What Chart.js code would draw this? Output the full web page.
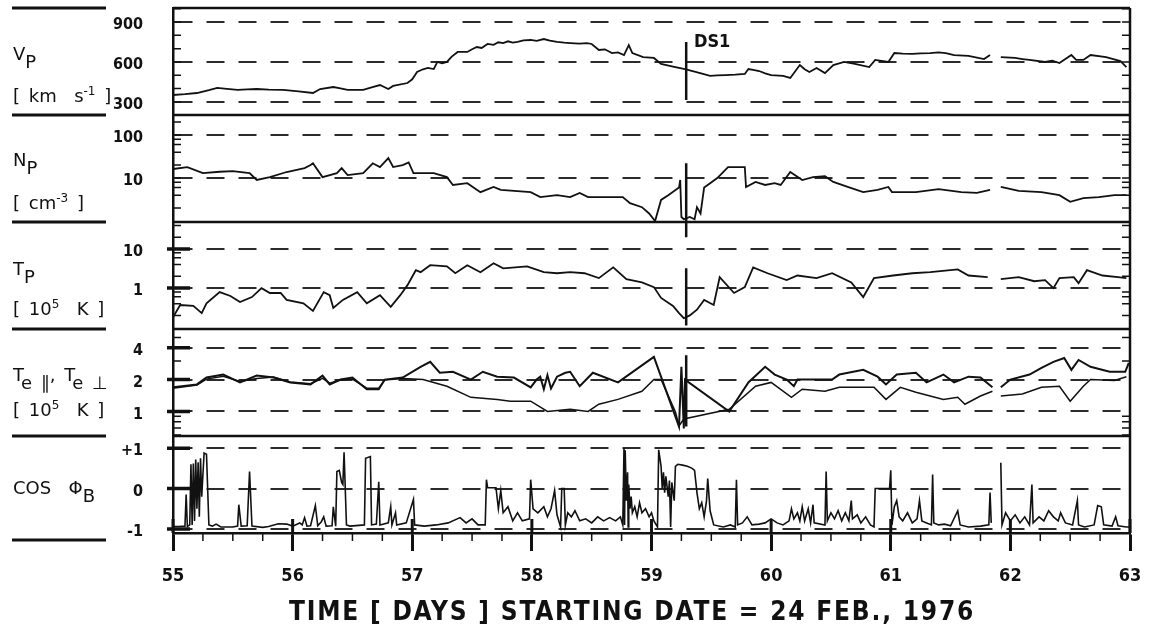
<!DOCTYPE html>
<html>
<head>
<meta charset="utf-8">
<script src="https://cdn.jsdelivr.net/npm/chart.js@4.4.1/dist/chart.umd.min.js"></script>
<style>
    html, body { margin: 0; padding: 0; background: #fff; }
    #wrap { position: relative; width: 1149px; height: 638px; overflow: hidden; }
    #plasmaChart { position: absolute; left: 0; top: 0; }
    .lab {
        position: absolute; left: 13px; color: #111; white-space: pre; line-height: 1;
        font-family: "DejaVu Sans", sans-serif; font-size: 18px; word-spacing: 3px;
    }
    .lab .sub { position: relative; top: 8px; }
    .lab .sup { position: relative; top: -7px; font-size: 12px; }
    .cond {
        position: absolute; color: #111; white-space: pre; line-height: 1;
        font-family: "DejaVu Sans Condensed", "DejaVu Sans", sans-serif; font-stretch: condensed; font-weight: bold;
    }
</style>
</head>
<body>
<div id="wrap">
    <canvas id="plasmaChart" width="1149" height="638"></canvas>

    <div class="lab" style="top:45px">V<span class="sub">P</span></div>
    <div class="lab" style="top:87px">[ km  s<span class="sup">-1</span> ]</div>
    <div class="lab" style="top:151px">N<span class="sub">P</span></div>
    <div class="lab" style="top:194px">[ cm<span class="sup">-3</span> ]</div>
    <div class="lab" style="top:260px">T<span class="sub">P</span></div>
    <div class="lab" style="top:300px">[ 10<span class="sup">5</span>  K ]</div>
    <div class="lab" style="top:366px">T<span class="sub">e ∥</span>, T<span class="sub">e ⊥</span></div>
    <div class="lab" style="top:401px">[ 10<span class="sup">5</span>  K ]</div>
    <div class="lab" style="top:479px">COS  Φ<span class="sub">B</span></div>

    <div class="cond" style="left:694px; top:32px; font-size:18px;">DS1</div>
    <div class="cond" style="left:632px; top:598px; font-size:26px; letter-spacing:1.8px; transform:translateX(-50%);">TIME [ DAYS ] STARTING DATE = 24 FEB., 1976</div>
</div>

<script>
// Solar wind plasma, days 55-63 of 1976: five stacked panels sharing one time axis

// time axis (days)
const dayTicks = [55, 56, 57, 58, 59, 60, 61, 62, 63];
const dayTickLabels = ['55', '56', '57', '58', '59', '60', '61', '62', '63'];

// proton bulk speed V_P [km/s]
const vpTicks = [300, 600, 900];
const vpTickLabels = ['300', '600', '900'];
const vpMinor = [400, 500, 700, 800, 1000];
const vpDays = [
    55.00, 55.10, 55.20, 55.30, 55.37, 55.45, 55.54, 55.62, 55.70, 55.80,
    55.92, 56.05, 56.17, 56.23, 56.34, 56.40, 56.46, 56.59, 56.66, 56.73,
    56.80, 56.84, 56.96, 57.00, 57.04, 57.09, 57.13, 57.18, 57.21, 57.25,
    57.29, 57.33, 57.38, 57.46, 57.50, 57.54, 57.58, 57.63, 57.68, 57.72,
    57.76, 57.80, 57.84, 57.88, 57.93, 57.99, 58.04, 58.10, 58.15, 58.21,
    58.27, 58.32, 58.40, 58.46, 58.50, 58.56, 58.61, 58.67, 58.72, 58.77,
    58.81, 58.84, 58.93, 59.02, 59.08, 59.18, 59.28, 59.36, 59.43, 59.49,
    59.55, 59.62, 59.70, 59.78, 59.81, 59.85, 59.90, 59.95, 60.00, 60.10,
    60.16, 60.24, 60.28, 60.32, 60.38, 60.45, 60.52, 60.61, 60.70, 60.82,
    60.87, 60.98, 61.03, 61.10, 61.18, 61.25, 61.33, 61.40, 61.46, 61.53,
    61.65, 61.78, 61.83, 61.87, 61.92, 62.04, 62.10, 62.16, 62.29, 62.35,
    62.41, 62.51, 62.55, 62.61, 62.67, 62.80, 62.92, 62.97
];
const vpValues = [
    352, 358, 367, 388, 405, 398, 390, 395, 397, 392,
    390, 380, 367, 397, 412, 402, 390, 390, 410, 427,
    397, 420, 442, 470, 525, 545, 555, 547, 600, 590,
    600, 640, 675, 675, 695, 712, 705, 735, 728, 748,
    742, 755, 745, 750, 762, 765, 758, 772, 760, 750,
    745, 742, 738, 742, 735, 690, 695, 667, 672, 652,
    727, 667, 637, 630, 585, 565, 547, 528, 510, 495,
    500, 502, 505, 510, 547, 540, 532, 515, 502, 495,
    480, 577, 545, 525, 555, 517, 577, 600, 585, 562,
    615, 600, 667, 662, 660, 665, 667, 672, 667, 652,
    645, 622, 652, null, 637, 630, 622, 615, 600, 610,
    592, 652, 615, 615, 652, 637, 607, 562
];

// proton density N_P [cm^-3]
const npTicks = [10, 100];
const npTickLabels = ['10', '100'];
const npMinor = [2, 4, 6, 8, 20, 40, 60, 80, 200];
const npDays = [
    55.00, 55.12, 55.25, 55.39, 55.50, 55.64, 55.70, 55.81, 55.95, 56.10,
    56.15, 56.17, 56.25, 56.37, 56.41, 56.46, 56.59, 56.67, 56.73, 56.80,
    56.84, 56.92, 56.97, 57.01, 57.18, 57.29, 57.34, 57.46, 57.57, 57.68,
    57.74, 57.99, 58.07, 58.21, 58.32, 58.40, 58.47, 58.76, 58.82, 58.92,
    58.98, 59.03, 59.08, 59.14, 59.23, 59.24, 59.25, 59.27, 59.32, 59.36,
    59.38, 59.41, 59.44, 59.49, 59.55, 59.64, 59.71, 59.78, 59.79, 59.87,
    59.95, 60.03, 60.08, 60.16, 60.26, 60.35, 60.45, 60.52, 60.64, 60.77,
    60.89, 60.98, 61.01, 61.21, 61.40, 61.59, 61.72, 61.83, 61.87, 61.92,
    62.07, 62.26, 62.41, 62.50, 62.61, 62.74, 62.87, 62.97
];
const npValues = [
    16.2, 18, 13, 14, 14.5, 13, 9, 10.5, 13.8, 17,
    20, 22, 10.5, 13, 17, 11.7, 13, 22, 18, 29,
    18, 20, 23, 13, 13, 10.5, 6.9, 7.6, 4.7, 6.2,
    5.3, 4.7, 3.6, 4.0, 3.6, 4.5, 3.6, 3.6, 2.6, 2.1,
    1.5, 1.0, 3.1, 4.0, 6.0, 9.0, 1.24, 1.1, 1.24, 1.1,
    2.1, 1.5, 6.0, 7.6, 10, 18, 18, 18, 6.2, 8.1,
    6.9, 7.6, 6.9, 13.8, 9, 10.5, 11, 8.1, 6.2, 4.7,
    5.3, 6.2, 4.7, 4.7, 5.5, 4.7, 4.5, 5.3, null, 6.2,
    5.0, 4.7, 4.0, 2.8, 3.4, 3.6, 4.0, 4.0
];

// proton temperature T_P [10^5 K]
const tpTicks = [1, 10];
const tpTickLabels = ['1', '10'];
const tpMinor = [0.2, 0.4, 0.6, 0.8, 2, 4, 6, 8, 20, 40];
const tpDays = [
    55.00, 55.06, 55.17, 55.24, 55.28, 55.39, 55.48, 55.56, 55.66, 55.74,
    55.81, 55.90, 55.95, 56.09, 56.17, 56.26, 56.31, 56.34, 56.42, 56.54,
    56.62, 56.73, 56.82, 56.90, 56.96, 57.03, 57.07, 57.15, 57.29, 57.36,
    57.46, 57.57, 57.68, 57.76, 57.96, 58.10, 58.21, 58.32, 58.44, 58.56,
    58.68, 58.79, 58.92, 59.02, 59.08, 59.18, 59.23, 59.27, 59.32, 59.38,
    59.44, 59.52, 59.57, 59.69, 59.78, 59.85, 59.97, 60.13, 60.22, 60.38,
    60.51, 60.67, 60.77, 60.86, 61.02, 61.18, 61.33, 61.56, 61.65, 61.81,
    61.86, 61.92, 62.07, 62.20, 62.29, 62.36, 62.41, 62.53, 62.57, 62.64,
    62.77, 62.90, 62.97
];
const tpValues = [
    0.18, 0.37, 0.35, 0.23, 0.41, 0.79, 0.63, 0.44, 0.59, 1.0,
    0.75, 0.75, 0.5, 0.41, 0.26, 0.79, 0.66, 0.31, 0.5, 0.79,
    0.41, 0.66, 0.33, 0.66, 1.19, 2.87, 2.55, 3.85, 3.6, 2.4,
    3.85, 2.55, 4.3, 3.2, 3.6, 2.55, 2.4, 2.55, 2.4, 1.8,
    3.4, 1.7, 1.4, 1.06, 0.56, 0.35, 0.23, 0.17, 0.2, 0.28,
    0.5, 0.37, 1.9, 0.75, 1.06, 3.4, 2.4, 1.6, 2.1, 1.8,
    2.4, 1.4, 0.59, 1.8, 2.1, 2.4, 2.55, 3.0, 2.1, 1.9,
    null, 1.7, 1.9, 1.5, 1.6, 1.0, 1.8, 1.9, 1.34, 2.87,
    2.1, 1.9, 1.8
];

// electron temperatures T_e parallel / perpendicular [10^5 K]
const teTicks = [1, 2, 4];
const teTickLabels = ['1', '2', '4'];
const teMinor = [0.6, 0.7, 0.8, 0.9, 3, 5];
const teParDays = [
    55.00, 55.20, 55.28, 55.42, 55.56, 55.70, 55.84, 55.98, 56.15, 56.25,
    56.31, 56.40, 56.50, 56.62, 56.72, 56.77, 56.92, 57.07, 57.15, 57.23,
    57.34, 57.49, 57.59, 57.71, 57.85, 57.99, 58.04, 58.07, 58.10, 58.13,
    58.16, 58.21, 58.28, 58.32, 58.40, 58.51, 58.72, 59.02, 59.23, 59.25,
    59.27, 59.28, 59.65, 59.81, 59.95, 60.03, 60.13, 60.19, 60.22, 60.38,
    60.51, 60.57, 60.77, 60.89, 60.96, 61.05, 61.21, 61.30, 61.44, 61.53,
    61.65, 61.75, 61.85, 61.88, 61.92, 62.00, 62.16, 62.26, 62.36, 62.45,
    62.51, 62.57, 62.67, 62.83, 62.96, 62.99
];
const teParValues = [
    1.69, 1.80, 2.09, 2.23, 1.88, 2.18, 2.09, 1.88, 1.80, 2.18,
    1.80, 2.0, 2.09, 1.62, 1.62, 2.0, 2.09, 2.64, 2.94, 2.32,
    2.37, 2.0, 2.37, 2.13, 2.09, 1.69, 2.0, 2.13, 1.62, 2.2,
    1.65, 2.13, 2.32, 2.37, 1.73, 2.32, 1.88, 3.27, 0.72, 2.64,
    0.69, 2.0, 1.0, 1.88, 2.64, 2.23, 2.0, 1.73, 2.0, 2.0,
    2.0, 2.23, 2.47, 2.13, 1.8, 2.23, 2.32, 1.88, 2.23, 1.88,
    2.13, 2.09, 1.69, null, 1.69, 2.0, 2.23, 2.58, 2.94, 3.2,
    2.47, 3.06, 2.64, 2.37, 2.37, 2.87
];
const tePerpDays = [
    55.00, 55.20, 55.28, 55.42, 55.56, 55.70, 55.84, 55.98, 56.15, 56.25,
    56.31, 56.40, 56.50, 56.62, 56.72, 56.77, 56.92, 57.09, 57.29, 57.49,
    57.71, 57.82, 57.99, 58.13, 58.32, 58.47, 58.56, 58.72, 58.92, 59.02,
    59.08, 59.20, 59.23, 59.27, 59.65, 59.87, 60.00, 60.17, 60.26, 60.45,
    60.57, 60.86, 60.96, 61.08, 61.21, 61.44, 61.56, 61.62, 61.75, 61.85,
    61.88, 61.92, 62.10, 62.26, 62.41, 62.50, 62.61, 62.67, 62.87, 62.97
];
const tePerpValues = [
    1.66, 1.78, 2.02, 2.15, 1.92, 2.05, 2.12, 1.9, 1.83, 2.05,
    1.85, 1.98, 2.02, 1.66, 1.66, 1.98, 2.05, 2.0, 1.73, 1.36,
    1.30, 1.25, 1.25, 1.0, 1.05, 1.0, 1.17, 1.3, 1.55, 2.0,
    2.0, 0.99, 0.73, 0.85, 1.05, 1.73, 1.88, 1.36, 1.62, 1.55,
    1.69, 1.69, 1.30, 1.69, 1.52, 1.30, 1.36, 1.17, 1.4, 1.55,
    null, 1.4, 1.46, 1.69, 1.73, 1.25, 1.73, 2.0, 1.96, 2.13
];

// magnetic field azimuth, cos(phi_B)
const cosTicks = [-1, 0, 1];
const cosTickLabels = ['-1', '0', '+1'];
const cosDays = [
    55.00, 55.05, 55.10, 55.11, 55.12, 55.14, 55.15, 55.16, 55.17, 55.18,
    55.19, 55.20, 55.21, 55.22, 55.23, 55.24, 55.26, 55.28, 55.30, 55.33,
    55.36, 55.40, 55.50, 55.54, 55.55, 55.57, 55.62, 55.64, 55.66, 55.75,
    55.80, 55.88, 55.95, 56.00, 56.06, 56.08, 56.10, 56.12, 56.15, 56.19,
    56.21, 56.24, 56.26, 56.28, 56.33, 56.34, 56.36, 56.37, 56.39, 56.41,
    56.42, 56.43, 56.45, 56.48, 56.60, 56.61, 56.65, 56.66, 56.70, 56.72,
    56.73, 56.80, 56.82, 56.83, 56.86, 56.87, 56.95, 57.01, 57.02, 57.10,
    57.20, 57.30, 57.40, 57.45, 57.50, 57.55, 57.61, 57.62, 57.63, 57.70,
    57.72, 57.74, 57.76, 57.80, 57.84, 57.88, 57.92, 57.98, 57.99, 58.01,
    58.05, 58.10, 58.13, 58.16, 58.19, 58.21, 58.24, 58.25, 58.27, 58.28,
    58.30, 58.33, 58.36, 58.40, 58.45, 58.50, 58.55, 58.60, 58.65, 58.70,
    58.74, 58.76, 58.77, 58.775, 58.78, 58.79, 58.80, 58.805, 58.81, 58.82,
    58.83, 58.84, 58.86, 58.88, 58.90, 58.92, 58.95, 58.98, 59.00, 59.02,
    59.05, 59.06, 59.08, 59.09, 59.10, 59.11, 59.12, 59.14, 59.15, 59.16,
    59.17, 59.19, 59.20, 59.22, 59.26, 59.30, 59.34, 59.36, 59.38, 59.40,
    59.42, 59.44, 59.46, 59.47, 59.49, 59.52, 59.60, 59.66, 59.70, 59.71,
    59.72, 59.76, 59.80, 59.84, 59.90, 59.95, 60.00, 60.05, 60.10, 60.15,
    60.17, 60.19, 60.22, 60.24, 60.26, 60.28, 60.31, 60.33, 60.35, 60.36,
    60.45, 60.46, 60.47, 60.50, 60.53, 60.56, 60.59, 60.62, 60.65, 60.67,
    60.68, 60.72, 60.75, 60.79, 60.83, 60.86, 60.87, 60.99, 61.00, 61.01,
    61.03, 61.05, 61.07, 61.10, 61.14, 61.18, 61.22, 61.24, 61.26, 61.30,
    61.34, 61.35, 61.36, 61.40, 61.45, 61.50, 61.56, 61.58, 61.65, 61.75,
    61.82, 61.83, 61.84, 61.87, 61.92, 61.93, 61.96, 62.00, 62.04, 62.08,
    62.12, 62.16, 62.18, 62.19, 62.24, 62.28, 62.32, 62.36, 62.40, 62.42,
    62.46, 62.52, 62.56, 62.57, 62.62, 62.70, 62.73, 62.76, 62.78, 62.85,
    62.88, 62.90, 62.97, 63.00
];
const cosValues = [
    -0.94, -0.94, -0.93, -0.15, -0.94, -0.90, 0.60, -0.90, 0.62, -0.80,
    0.72, -0.50, 0.65, -0.70, 0.75, -0.20, 0.88, 0.85, -0.90, -0.93,
    -0.88, -0.95, -0.95, -0.93, -0.40, -0.93, -0.92, 0.42, -0.93, -0.96,
    -0.94, -0.87, -0.88, -0.93, -0.85, -0.90, -0.72, -0.93, -0.92, -0.42,
    -0.92, -0.82, -0.70, -0.93, -0.92, -0.45, -0.93, 0.42, 0.45, 0.15,
    0.10, 0.90, -0.90, -0.93, -0.90, 0.75, 0.79, -0.90, -0.88, 0.17,
    -0.90, -0.85, -0.45, -0.90, -0.60, -0.90, -0.85, -0.27, -0.90, -0.93,
    -0.90, -0.85, -0.72, -0.85, -0.75, -0.90, -0.90, 0.22, 0.02, 0.02,
    -0.50, -0.05, -0.60, -0.45, -0.80, -0.60, -0.80, -0.75, 0.22, -0.50,
    -0.60, -0.45, -0.70, -0.50, -0.05, -0.65, -0.95, 0.00, 0.00, -0.90,
    -0.60, -0.70, -0.55, -0.80, -0.75, -0.85, -0.70, -0.80, -0.72, -0.80,
    -0.70, -0.90, 1.00, -0.90, 0.95, -0.30, 0.40, -0.95, 0.10, -0.50,
    -0.20, -0.60, -0.45, -0.70, -0.35, -0.60, -0.50, -0.70, -0.60, -0.80,
    -0.95, 0.96, 0.55, 0.00, 0.40, -0.10, 0.30, -0.20, 0.20, -0.95,
    0.15, -0.30, 0.55, 0.60, 0.58, 0.55, 0.50, 0.45, -0.10, -0.50,
    -0.35, -0.70, -0.30, 0.25, -0.55, -0.90, -0.95, -0.90, -0.95, 0.22,
    -0.90, -0.85, -0.70, -0.90, -0.88, -0.85, -0.75, -0.85, -0.90, -0.80,
    -0.50, -0.75, -0.60, -0.80, -0.45, -0.80, -0.50, -0.85, -0.40, -0.85,
    -0.90, 0.42, -0.80, -0.60, -0.75, -0.55, -0.80, -0.60, -0.80, -0.30,
    -0.75, -0.65, -0.85, -0.70, -0.90, -0.95, 0.00, 0.00, 0.45, -0.90,
    -0.45, -0.30, -0.70, -0.80, -0.60, -0.85, -0.75, -0.30, -0.80, -0.85,
    -0.90, 0.35, -0.85, -0.90, -0.88, -0.92, -0.55, -0.90, -0.95, -0.93,
    -0.90, -0.10, -0.85, null, 0.64, -0.90, -0.60, -0.80, -0.65, -0.85,
    -0.70, -0.90, 0.10, -0.85, -0.70, -0.80, -0.55, -0.70, -0.80, -0.60,
    -0.85, -0.90, -0.30, -0.90, -0.95, -0.90, -0.42, -0.45, -0.90, -0.93,
    -0.70, -0.92, -0.95, -0.95
];

// discontinuity DS1 marker: day and the extent of the bar in each panel
const ds1Day = 59.29;
const ds1Vp = [750, 315];
const ds1Np = [22, 0.95];
const ds1TpUpper = [49, 20];
const ds1TpLower = [3.2, 0.11];
const ds1Te = [3.4, 0.72];

const ink = '#111';
const tickFont = { family: "'DejaVu Sans Condensed', 'Liberation Sans Narrow', sans-serif", weight: 'bold', size: 16 };

function toPoints(days, values) {
    if (days.length !== values.length) {
        console.error('length mismatch', days.length, values.length);
    }
    return days.map((d, i) => ({ x: d, y: values[i] }));
}

function markerPoints(range) {
    return range.map(v => ({ x: ds1Day, y: v }));
}

function trace(data, axisId, width) {
    return {
        data: data,
        yAxisID: axisId,
        borderColor: ink,
        borderWidth: width || 1.8,
        pointRadius: 0,
        tension: 0,
        fill: false,
        spanGaps: false
    };
}

// one of the five stacked left axes
function panelAxis(type, min, max, ticks, labels, weight) {
    return {
        type: type,
        min: min,
        max: max,
        position: 'left',
        stack: 'panels',
        stackWeight: weight,
        offset: false,
        afterBuildTicks: axis => { axis.ticks = ticks.map(v => ({ value: v })); },
        afterFit: axis => {
            axis.width = 173;
            axis.paddingTop = 0;
            axis.paddingBottom = 0;
        },
        grid: { drawTicks: false, color: '#2b2b2b', lineWidth: 2 },
        border: { display: true, color: ink, width: 2.5, dash: [18, 14] },
        ticks: {
            padding: 30,
            labelOffset: 3,
            color: ink,
            font: tickFont,
            callback: (value, index) => labels[index]
        }
    };
}

// frame, panel separators, minor tick marks and the left rules
const panelFrame = {
    id: 'panelFrame',
    afterDatasetsDraw(chart) {
        const { ctx, chartArea: a, scales } = chart;
        const panels = [
            { id: 'yV', minor: vpMinor, major: vpTicks, heavy: false },
            { id: 'yN', minor: npMinor, major: npTicks, heavy: false },
            { id: 'yT', minor: tpMinor, major: tpTicks, heavy: true },
            { id: 'yE', minor: teMinor, major: teTicks, heavy: true },
            { id: 'yC', minor: [], major: cosTicks, heavy: true }
        ];
        ctx.save();
        ctx.strokeStyle = ink;

        ctx.lineWidth = 2.5;
        ctx.beginPath();
        ctx.moveTo(a.left, a.top);
        ctx.lineTo(a.right, a.top);
        ctx.moveTo(a.right, a.top);
        ctx.lineTo(a.right, a.bottom);
        panels.slice(0, -1).forEach(p => {
            const y = scales[p.id].bottom;
            ctx.moveTo(a.left, y);
            ctx.lineTo(a.right, y);
        });
        ctx.stroke();

        // inward minor ticks, both sides
        ctx.lineWidth = 1.5;
        ctx.beginPath();
        panels.forEach(p => {
            const s = scales[p.id];
            p.minor.concat(p.heavy ? [] : p.major).forEach(v => {
                const y = s.getPixelForValue(v);
                if (y < s.top || y > s.bottom) return;
                ctx.moveTo(a.left, y);
                ctx.lineTo(a.left + 8, y);
                ctx.moveTo(a.right - 8, y);
                ctx.lineTo(a.right, y);
            });
        });
        ctx.stroke();

        // heavy major ticks on the lower panels
        ctx.lineWidth = 3.5;
        ctx.beginPath();
        panels.filter(p => p.heavy).forEach(p => {
            const s = scales[p.id];
            p.major.forEach(v => {
                const y = s.getPixelForValue(v);
                ctx.moveTo(a.left - 6, y);
                ctx.lineTo(a.left + 17, y);
            });
        });
        ctx.stroke();

        // time axis: quarter-day ticks below, day ticks reaching into the plot
        const xs = scales.x;
        ctx.lineWidth = 1.5;
        ctx.beginPath();
        for (let d = dayTicks[0]; d <= dayTicks[dayTicks.length - 1]; d += 0.25) {
            const x = xs.getPixelForValue(d);
            ctx.moveTo(x, a.bottom);
            ctx.lineTo(x, a.bottom + 8);
        }
        ctx.stroke();
        ctx.lineWidth = 3;
        ctx.beginPath();
        dayTicks.forEach(d => {
            const x = xs.getPixelForValue(d);
            ctx.moveTo(x, a.bottom - 14);
            ctx.lineTo(x, a.bottom);
        });
        ctx.stroke();

        // short rules between the panel names on the left
        ctx.lineWidth = 3;
        ctx.beginPath();
        const rules = [scales.yV.top].concat(panels.slice(0, -1).map(p => scales[p.id].bottom), [scales.yC.bottom + 7]);
        rules.forEach(y => {
            ctx.moveTo(12, y);
            ctx.lineTo(106, y);
        });
        ctx.stroke();
        ctx.restore();
    }
};

function initPlasmaChart() {
    const ctx = document.getElementById('plasmaChart');
    if (!ctx) return;

    const data = {
        datasets: [
            trace(toPoints(vpDays, vpValues), 'yV'),
            trace(markerPoints(ds1Vp), 'yV', 2.5),
            trace(toPoints(npDays, npValues), 'yN'),
            trace(markerPoints(ds1Np), 'yN', 2.5),
            trace(toPoints(tpDays, tpValues), 'yT'),
            trace(markerPoints(ds1TpUpper), 'yT', 2.5),
            trace(markerPoints(ds1TpLower), 'yT', 2.5),
            trace(toPoints(teParDays, teParValues), 'yE', 2),
            trace(toPoints(tePerpDays, tePerpValues), 'yE', 1.5),
            trace(markerPoints(ds1Te), 'yE', 2.5),
            trace(toPoints(cosDays, cosValues), 'yC', 1.6)
        ]
    };

    const config = {
        type: 'line',
        data: data,
        options: {
            responsive: false,
            animation: false,
            events: [],
            layout: { padding: { left: 0, right: 19, top: 8, bottom: 0 } },
            plugins: {
                legend: { display: false },
                tooltip: { enabled: false }
            },
            // stacked left axes are placed bottom-up in declaration order
            scales: {
                x: {
                    type: 'linear',
                    min: 55,
                    max: 63,
                    position: 'bottom',
                    afterBuildTicks: axis => { axis.ticks = dayTicks.map(v => ({ value: v })); },
                    afterFit: axis => {
                        axis.height = 105;
                        axis.paddingLeft = 0;
                        axis.paddingRight = 0;
                    },
                    grid: { drawOnChartArea: false, drawTicks: true, tickLength: 18, tickWidth: 3, tickColor: ink },
                    border: { color: ink, width: 2.5 },
                    ticks: {
                        padding: 15,
                        color: ink,
                        autoSkip: false,
                        maxRotation: 0,
                        font: { family: tickFont.family, weight: 'bold', size: 18 },
                        callback: (value, index) => dayTickLabels[index]
                    }
                },
                yC: panelAxis('linear', -1.10, 1.30, cosTicks, cosTickLabels, 97),
                yE: panelAxis('logarithmic', 0.587, 6.0, teTicks, teTickLabels, 107),
                yT: panelAxis('logarithmic', 0.09, 49, tpTicks, tpTickLabels, 107),
                yN: panelAxis('logarithmic', 0.95, 292, npTicks, npTickLabels, 107),
                yV: panelAxis('linear', 202, 1005, vpTicks, vpTickLabels, 107)
            }
        },
        plugins: [panelFrame]
    };

    new Chart(ctx, config);
}

document.addEventListener('DOMContentLoaded', initPlasmaChart);
</script>
</body>
</html>
